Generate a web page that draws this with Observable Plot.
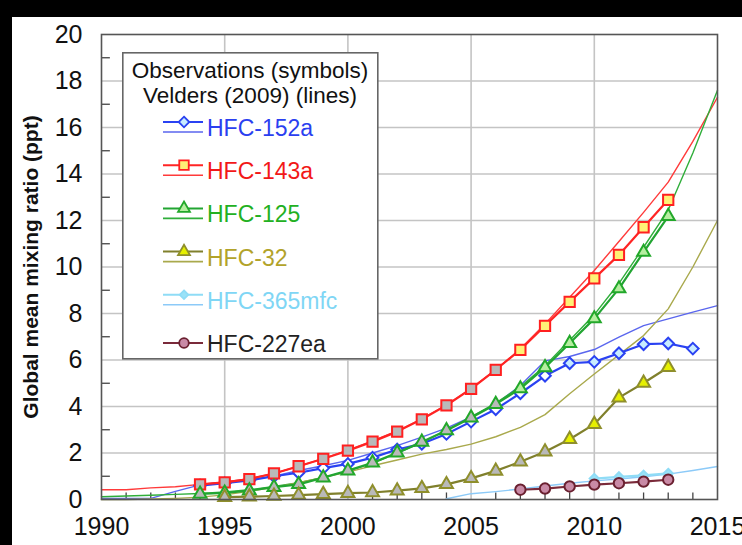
<!DOCTYPE html>
<html>
<head>
<meta charset="utf-8">
<script src="https://cdn.jsdelivr.net/npm/d3@7"></script>
<script src="https://cdn.jsdelivr.net/npm/@observablehq/plot@0.6"></script>
<style>
  html, body { margin: 0; padding: 0; background: #000; }
  #wrap { position: relative; width: 742px; height: 545px; overflow: hidden; background: #000; }
  #chart { position: absolute; left: 12px; top: 17px; width: 730px; height: 528px; background: #fff; }
  #chart svg { overflow: visible; }
  #legend { position: absolute; left: 122px; top: 52px; }
</style>
</head>
<body>
<div id="wrap">
  <div id="chart"></div>
  <svg id="legend" width="257" height="308"></svg>
</div>
<script>
// ---------------- data ----------------
const seriesNames = ["HFC-152a", "HFC-143a", "HFC-125", "HFC-32", "HFC-365mfc", "HFC-227ea"];

// Observations (symbols)
const obsYears152a = [1994,1995,1996,1997,1998,1999,2000,2001,2002,2003,2004,2005,2006,2007,2008,2009,2010,2011,2012,2013,2014];
const obs152a      = [0.60,0.70,0.82,1.00,1.15,1.35,1.53,1.80,2.15,2.40,2.82,3.35,3.88,4.57,5.32,5.86,5.92,6.29,6.68,6.71,6.49];

const obsYears143a = [1994,1995,1996,1997,1998,1999,2000,2001,2002,2003,2004,2005,2006,2007,2008,2009,2010,2011,2012,2013];
const obs143a      = [0.65,0.74,0.88,1.12,1.43,1.75,2.10,2.49,2.92,3.45,4.05,4.76,5.58,6.44,7.47,8.50,9.51,10.52,11.71,12.89];

const obsYears125  = [1994,1995,1996,1997,1998,1999,2000,2001,2002,2003,2004,2005,2006,2007,2008,2009,2010,2011,2012,2013];
const obs125       = [0.24,0.28,0.38,0.53,0.65,0.94,1.24,1.58,2.01,2.47,2.97,3.52,4.10,4.77,5.68,6.72,7.78,9.07,10.64,12.18];

const obsYears32   = [1995,1996,1997,1998,1999,2000,2001,2002,2003,2004,2005,2006,2007,2008,2009,2010,2011,2012,2013];
const obs32        = [0.10,0.12,0.15,0.19,0.23,0.27,0.30,0.38,0.48,0.65,0.91,1.23,1.62,2.05,2.59,3.24,4.38,5.01,5.69];

const obsYears365  = [2010,2011,2012,2013];
const obs365       = [0.90,0.97,1.04,1.12];

const obsYears227  = [2007,2008,2009,2010,2011,2012,2013];
const obs227       = [0.42,0.47,0.56,0.64,0.70,0.77,0.85];

// first year of the second (recent) observation record, per series
const recentFrom = [2009, 2007, 2007, 2009, 2010, 2007];

// Velders (2009) scenario (lines)
const modelYears = [1990,1991,1992,1993,1994,1995,1996,1997,1998,1999,2000,2001,2002,2003,2004,2005,2006,2007,2008,2009,2010,2011,2012,2013,2014,2015];
const model152a  = [0.05,0.05,0.05,0.35,0.63,0.75,0.85,1.00,1.25,1.45,1.68,2.00,2.32,2.68,3.07,3.55,4.10,4.90,5.96,6.15,6.45,6.98,7.48,7.77,8.06,8.34];
const model143a  = [0.42,0.42,0.50,0.55,0.65,0.75,0.90,1.12,1.43,1.76,2.12,2.52,2.95,3.47,4.07,4.78,5.58,6.48,7.55,8.70,9.85,11.10,12.35,13.65,15.40,17.30];
const model125   = [0.12,0.15,0.18,0.22,0.26,0.32,0.42,0.56,0.72,0.95,1.22,1.56,1.98,2.45,2.98,3.55,4.15,4.85,5.75,6.85,7.95,9.30,10.85,12.45,14.90,17.60];
const model32    = [0.00,0.00,0.02,0.05,0.10,0.20,0.35,0.52,0.72,0.95,1.18,1.45,1.70,1.95,2.15,2.38,2.70,3.10,3.65,4.55,5.40,6.22,7.05,8.20,10.00,12.00];
const modelYears365 = [2004,2005,2006,2007,2008,2009,2010,2011,2012,2013,2014,2015];
const model365      = [0.03,0.25,0.34,0.45,0.58,0.70,0.80,0.88,0.98,1.09,1.25,1.42];

// axes
const xTicks = [1990,1995,2000,2005,2010,2015];
const yTicks = [0,2,4,6,8,10,12,14,16,18,20];
const xMinor = [1991,1992,1993,1994,1996,1997,1998,1999,2001,2002,2003,2004,2006,2007,2008,2009,2011,2012,2013,2014];
const yMinor = [1,3,5,7,9,11,13,15,17,19];
const yLabel = "Global mean mixing ratio (ppt)";
const legendTitle = ["Observations (symbols)", "Velders (2009) (lines)"];

// ---------------- styles ----------------
const styles = [
  {obsYears: obsYears152a, obs: obs152a, modelYears: modelYears, model: model152a,
   line: "#2a42f2", modelLine: "#5a66ee", symbol: "diamond2", r: 5.2, mstroke: "#2a42f2",
   fillEarly: "#ffffff", fillRecent: "#c8ecff", text: "#2b3ff0"},
  {obsYears: obsYears143a, obs: obs143a, modelYears: modelYears, model: model143a,
   line: "#ff2424", modelLine: "#ff3a3a", symbol: "square", r: 5.8, mstroke: "#ff2020",
   fillEarly: "#b9b9b9", fillRecent: "#fff176", text: "#f21818"},
  {obsYears: obsYears125, obs: obs125, modelYears: modelYears, model: model125,
   line: "#22a532", modelLine: "#2fae3a", symbol: "triangle", r: 4.8, mstroke: "#22a82a",
   fillEarly: "#b9b9b9", fillRecent: "#b5eea0", text: "#22b022"},
  {obsYears: obsYears32, obs: obs32, modelYears: modelYears, model: model32,
   line: "#80802c", modelLine: "#a9a94c", symbol: "triangle", r: 4.8, mstroke: "#8f8f2c",
   fillEarly: "#b9b9b9", fillRecent: "#e6f000", text: "#b2a32a"},
  {obsYears: obsYears365, obs: obs365, modelYears: modelYears365, model: model365,
   line: "#8fdcf6", modelLine: "#8ccaf8", symbol: "diamond2", r: 4.2, mstroke: "#8fdcf6",
   fillEarly: "#9ae2f8", fillRecent: "#9ae2f8", text: "#7fd6f5"},
  {obsYears: obsYears227, obs: obs227, modelYears: null, model: null,
   line: "#7a2a3a", modelLine: null, symbol: "circle", r: 5.2, mstroke: "#6a2030",
   fillEarly: "#c98aa6", fillRecent: "#c98aa6", text: "#222222"}
];

// ---------------- marks ----------------
const marks = [
  Plot.gridX(xTicks.slice(1, -1), {stroke: "#c4c4c4", strokeOpacity: 1, strokeWidth: 1.6}),
  Plot.gridY(yTicks.slice(1, -1), {stroke: "#c4c4c4", strokeOpacity: 1, strokeWidth: 1.6}),
  Plot.ruleX(xMinor, {y1: 0, y2: 0.28, stroke: "#444", strokeWidth: 1.3}),
  Plot.ruleY(yMinor, {x1: 1990, x2: 1990.36, stroke: "#444", strokeWidth: 1.3}),
  Plot.axisY({ticks: yTicks, tickSize: 0, tickPadding: 19, fontSize: 25, color: "#111", label: null}),
  Plot.axisX({ticks: xTicks, tickSize: 0, tickPadding: 18, fontSize: 25, tickFormat: d => String(d), color: "#111", label: null}),
  Plot.text([yLabel], {frameAnchor: "left", rotate: -90, dx: -70, textAnchor: "middle", fontSize: 21, fontWeight: "bold", fill: "#111"})
];

// model lines first
styles.forEach((s, i) => {
  if (!s.model) return;
  const rows = s.modelYears.map((yr, k) => ({year: yr, value: s.model[k]}));
  marks.push(Plot.line(rows, {x: "year", y: "value", stroke: s.modelLine, strokeWidth: 1.4}));
});

// observations
styles.forEach((s, i) => {
  const rows = s.obsYears.map((yr, k) => ({year: yr, value: s.obs[k], recent: yr >= recentFrom[i]}));
  marks.push(Plot.line(rows, {x: "year", y: "value", stroke: s.line, strokeWidth: 2.2}));
  marks.push(Plot.dot(rows.filter(d => !d.recent), {x: "year", y: "value", symbol: s.symbol, r: s.r,
    fill: s.fillEarly, stroke: s.mstroke, strokeWidth: 2}));
  marks.push(Plot.dot(rows.filter(d => d.recent), {x: "year", y: "value", symbol: s.symbol, r: s.r,
    fill: s.fillRecent, stroke: s.mstroke, strokeWidth: 2}));
});

marks.push(Plot.frame({stroke: "#555", strokeWidth: 1.6}));

const chart = Plot.plot({
  width: 730, height: 528,
  marginLeft: 89, marginTop: 17, marginRight: 25, marginBottom: 46,
  x: {domain: [1990, 2015], label: null},
  y: {domain: [0, 20], label: null},
  style: {fontFamily: "'Liberation Sans', Arial, Helvetica, sans-serif", background: "white", overflow: "visible"},
  marks
});
document.getElementById("chart").appendChild(chart);

// ---------------- legend ----------------
const lg = d3.select("#legend");
lg.append("rect").attr("x", 0.8).attr("y", 0.8).attr("width", 255).attr("height", 306)
  .attr("fill", "#fff").attr("stroke", "#666").attr("stroke-width", 1.6);
legendTitle.forEach((t, k) => {
  lg.append("text").attr("x", 128).attr("y", 18 + k * 25).attr("text-anchor", "middle")
    .attr("dominant-baseline", "central")
    .style("font", "22.5px 'Liberation Sans', Arial, sans-serif").attr("fill", "#111").text(t);
});
const symType = {diamond2: d3.symbolDiamond2, square: d3.symbolSquare, triangle: d3.symbolTriangle, circle: d3.symbolCircle};
styles.forEach((s, i) => {
  const c = 75 + 43.2 * i;
  const x0 = 41, x1 = 81, xm = 62;
  const g = lg.append("g");
  if (s.model) {
    g.append("line").attr("x1", x0).attr("x2", x1).attr("y1", c - 5).attr("y2", c - 5).attr("stroke", s.line).attr("stroke-width", 2);
    g.append("line").attr("x1", x0).attr("x2", x1).attr("y1", c + 5).attr("y2", c + 5).attr("stroke", s.modelLine).attr("stroke-width", 1.6);
  } else {
    g.append("line").attr("x1", x0).attr("x2", x1).attr("y1", c).attr("y2", c).attr("stroke", s.line).attr("stroke-width", 2);
  }
  const my = s.model ? c - 5 : c;
  g.append("path").attr("transform", `translate(${xm},${my})`)
    .attr("d", d3.symbol(symType[s.symbol], Math.PI * s.r * s.r * 0.85)())
    .attr("fill", s.fillRecent).attr("stroke", s.mstroke).attr("stroke-width", 1.8);
  g.append("text").attr("x", 85).attr("y", c + 1).attr("dominant-baseline", "central")
    .style("font", "23px 'Liberation Sans', Arial, sans-serif").attr("fill", s.text).text(seriesNames[i]);
});
</script>
</body>
</html>
